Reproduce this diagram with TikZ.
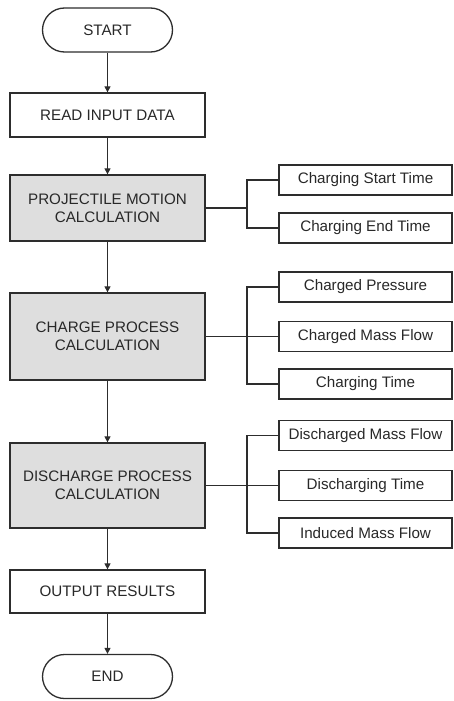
\documentclass[tikz,border=0pt]{standalone}
\usepackage{fontspec}
\setmainfont{Liberation Sans}
\usetikzlibrary{arrows.meta}

\definecolor{procgray}{RGB}{222,222,222}
\definecolor{linegray}{RGB}{45,45,45}
\definecolor{textgray}{RGB}{40,40,40}

\begin{document}
\begin{tikzpicture}[x=1pt, y=-1pt, font=\fontsize{15.2}{18}\selectfont,
    term/.style={draw=linegray, line width=1.3pt, rounded corners=22pt, minimum width=130pt, minimum height=44pt, inner sep=0pt, text=textgray},
    box/.style={draw=linegray, line width=1.3pt, fill=white, minimum width=195pt, inner sep=0pt, align=center, text=textgray},
    proc/.style={box, fill=procgray},
    resbox/.style={draw=linegray, line width=1.3pt, minimum width=173pt, minimum height=30pt, inner sep=0pt, text=textgray},
    flow/.style={draw=linegray, line width=1.1pt, -{Triangle[length=6pt,width=6pt]}},
    link/.style={draw=linegray, line width=1.1pt},]

        \useasboundingbox (0,0) rectangle (453,701);

        % Define the coordinates of the main column
        \coordinate (S) at (107.5,30);
        \coordinate (R) at (107.5,115);
        \coordinate (PM) at (107.5,208);
        \coordinate (CP) at (107.5,336.5);
        \coordinate (DP) at (107.5,485.5);
        \coordinate (O) at (107.5,591.5);
        \coordinate (E) at (107.5,676.5);

        % Coordinates of the result boxes
        \coordinate (R1) at (365.5,180);
        \coordinate (R2) at (365.5,228);
        \coordinate (R3) at (365.5,287);
        \coordinate (R4) at (365.5,336.5);
        \coordinate (R5) at (365.5,384);
        \coordinate (R6) at (365.5,435.5);
        \coordinate (R7) at (365.5,485.5);
        \coordinate (R8) at (365.5,533);

        % Junction points
        \coordinate (J1) at (247,208);
        \coordinate (J2) at (247,336.5);
        \coordinate (J3) at (247,485.5);

        % Draw the main steps
        \node[term] (start) at (S) {START};
        \node[box, minimum height=44pt] (read) at (R) {READ INPUT DATA};
        \node[proc, minimum height=66pt] (proj) at (PM) {PROJECTILE MOTION\\CALCULATION};
        \node[proc, minimum height=87pt] (charge) at (CP) {CHARGE PROCESS\\CALCULATION};
        \node[proc, minimum height=85pt] (discharge) at (DP) {DISCHARGE PROCESS\\CALCULATION};
        \node[box, minimum height=43pt] (output) at (O) {OUTPUT RESULTS};
        \node[term] (end) at (E) {END};

        % Draw the result boxes
        \node[resbox] (cst) at (R1) {Charging Start Time};
        \node[resbox] (cet) at (R2) {Charging End Time};
        \node[resbox] (cpr) at (R3) {Charged Pressure};
        \node[resbox] (cmf) at (R4) {Charged Mass Flow};
        \node[resbox] (ct) at (R5) {Charging Time};
        \node[resbox] (dmf) at (R6) {Discharged Mass Flow};
        \node[resbox] (dt) at (R7) {Discharging Time};
        \node[resbox] (imf) at (R8) {Induced Mass Flow};

        % Arrows down the main column
        \draw[flow] (start) -- (read);
        \draw[flow] (read) -- (proj);
        \draw[flow] (proj) -- (charge);
        \draw[flow] (charge) -- (discharge);
        \draw[flow] (discharge) -- (output);
        \draw[flow] (output) -- (end);

        % Branches to the results
        \draw[link] (proj.east) -- (J1);
        \draw[link] (J1) |- (cst.west);
        \draw[link] (J1) |- (cet.west);

        \draw[link] (charge.east) -- (cmf.west);
        \draw[link] (J2) |- (cpr.west);
        \draw[link] (J2) |- (ct.west);

        \draw[link] (discharge.east) -- (dt.west);
        \draw[link] (J3) |- (dmf.west);
        \draw[link] (J3) |- (imf.west);

    \end{tikzpicture}
\end{document}
